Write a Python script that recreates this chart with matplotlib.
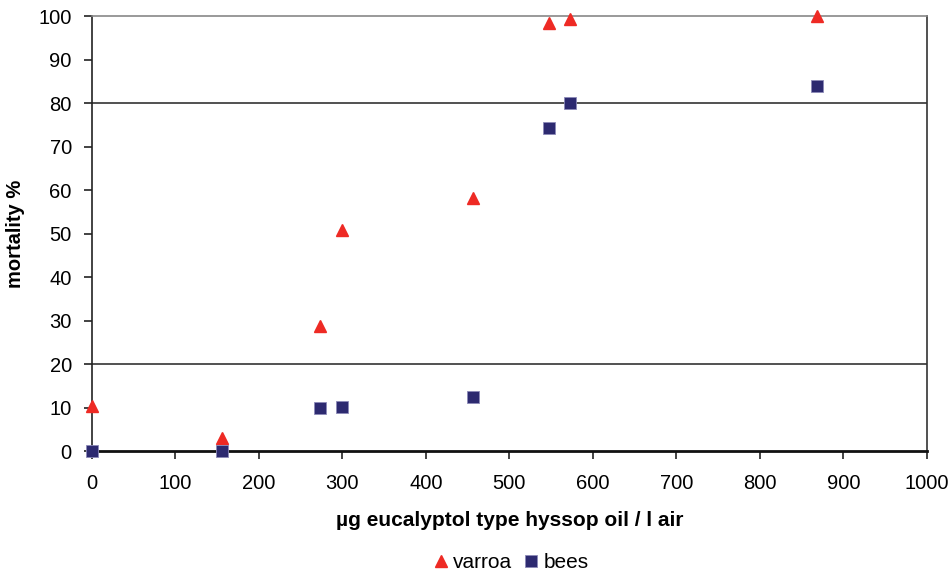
import matplotlib.pyplot as plt

plt.rcParams["font.family"] = ["Liberation Sans", "DejaVu Sans"]

# dose (µg / l air) and mortality (%)
varroa_x = [0, 156, 273, 299, 456, 548, 572, 869]
varroa_y = [10.4, 3.1, 28.8, 50.9, 58.2, 98.4, 99.3, 100]
bees_x = [0, 156, 273, 299, 456, 548, 572, 869]
bees_y = [0, 0, 10, 10.2, 12.5, 74.2, 80.1, 83.9]

fig = plt.figure(figsize=(9.52, 5.78), dpi=100)
ax = fig.add_axes([0.0966, 0.2189, 0.877, 0.7534])

# only a few horizontal gridlines, as in the original
for yv in (20, 80):
    ax.axhline(yv, color="#333333", lw=1.2, zorder=1)

ax.plot(varroa_x, varroa_y, linestyle="none", marker="^", markersize=8.5,
        color="#ee2a24", markeredgecolor="#ee2a24", label="varroa", zorder=3,
        clip_on=False)
ax.plot(bees_x, bees_y, linestyle="none", marker="s", markersize=8.5,
        color="#2d2a70", markeredgecolor="#8c8ab8", markeredgewidth=0.6,
        label="bees", zorder=3, clip_on=False)

ax.set_xlim(0, 1000)
ax.set_ylim(0, 100)
ax.set_xticks(range(0, 1001, 100))
ax.set_yticks(range(0, 101, 10))
ax.tick_params(labelsize=14.5, length=6, width=1.2, color="#222222")
ax.tick_params(axis="x", pad=10.5)
ax.tick_params(axis="y", pad=8.5)

ax.spines["top"].set_color("#888888")
ax.spines["top"].set_linewidth(1.2)
ax.spines["right"].set_color("#333333")
ax.spines["right"].set_linewidth(1.2)
ax.spines["left"].set_color("#222222")
ax.spines["left"].set_linewidth(1.2)
ax.spines["bottom"].set_color("#111111")
ax.spines["bottom"].set_linewidth(2)

ax.set_xlabel("µg eucalyptol type hyssop oil / l air", fontsize=15,
              fontweight="bold", labelpad=12.5)
ax.set_ylabel("mortality %", fontsize=14.5, fontweight="bold", labelpad=10)

fig.legend(loc="center", bbox_to_anchor=(0.535, 0.026), ncol=2, frameon=False,
           fontsize=15, handletextpad=0.1, columnspacing=0.4, handlelength=1,
           markerscale=1.0)

fig.savefig("out.png", dpi=100)
